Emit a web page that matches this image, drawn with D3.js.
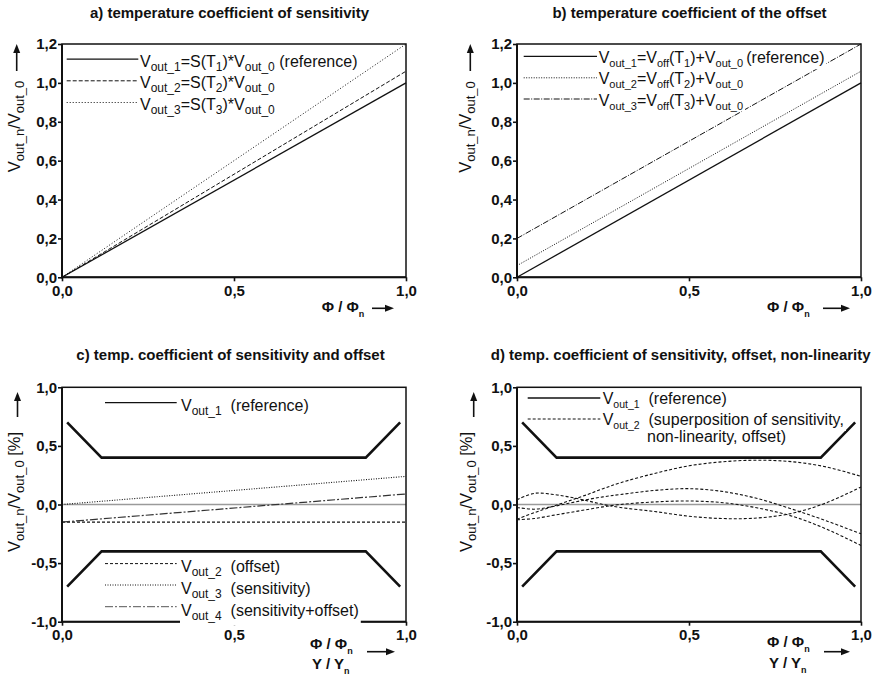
<!DOCTYPE html>
<html>
<head>
<meta charset="utf-8">
<script src="https://cdn.jsdelivr.net/npm/d3@7"></script>
<style>
  body { margin: 0; background: #fff; }
  svg { display: block; font-family: "Liberation Sans", Arial, Helvetica, sans-serif; }
</style>
</head>
<body>
<svg id="fig" width="877" height="681"></svg>
<script>
// ---------- data ----------
const xTicks = [0, 0.5, 1.0];
const abYTicks = [0, 0.2, 0.4, 0.6, 0.8, 1.0, 1.2];
const cdYTicks = [-1.0, -0.5, 0, 0.5, 1.0];

// a) sensitivity drift: straight lines through the origin
const lineX = [0, 1];
const aRef = [0, 1.0];
const aSensT2 = [0, 1.06];
const aSensT3 = [0, 1.2];

// b) offset drift: parallel lines
const bRef = [0, 1.0];
const bOffT2 = [0.06, 1.06];
const bOffT3 = [0.2, 1.2];

// c) / d) tolerance band (reference), in %
const bandX = [0.015, 0.115, 0.883, 0.983];
const bandUpper = [0.70, 0.40, 0.40, 0.70];
const bandLower = [-0.70, -0.40, -0.40, -0.70];

// c) error curves, in %
const cOffset = [-0.15, -0.15];
const cSens = [0, 0.24];
const cSensOffset = [-0.15, 0.09];

// d) superposed error curves, in %
const dX  = [0, 0.05, 0.1, 0.15, 0.2, 0.25, 0.3, 0.4, 0.5, 0.6, 0.7, 0.8, 0.9, 1.0];
const dC1 = [-0.125, -0.07, -0.02, 0.03, 0.08, 0.135, 0.185, 0.265, 0.33, 0.365, 0.378, 0.365, 0.32, 0.24];
const dC2 = [0.04, 0.095, 0.088, 0.065, 0.035, 0.0, -0.025, -0.06, -0.1, -0.12, -0.115, -0.075, 0.015, 0.15];
const dC3 = [-0.025, -0.04, -0.02, 0.01, 0.04, 0.065, 0.085, 0.12, 0.135, 0.11, 0.05, -0.04, -0.14, -0.25];
const dC4 = [-0.13, -0.12, -0.095, -0.07, -0.045, -0.02, 0.0, 0.022, 0.03, 0.015, -0.03, -0.1, -0.21, -0.35];

// ---------- helpers ----------
const svg = d3.select("#fig");
const INK = "#111";
const fmt = d3.formatLocale({decimal: ",", thousands: ".", grouping: [3], currency: ["", ""], minus: "-"}).format(".1f");

// Writes a string with _{...} subscripts into a <text> element
function rich(text, str, size, subSize, subDy) {
  const re = /_\{([^}]*)\}/g;
  let last = 0, m, down = false;
  while ((m = re.exec(str))) {
    if (m.index > last) {
      text.append("tspan").attr("font-size", size).attr("dy", down ? -subDy : 0).text(str.slice(last, m.index));
      down = false;
    }
    text.append("tspan").attr("font-size", subSize).attr("dy", down ? 0 : subDy).text(m[1]);
    down = true;
    last = re.lastIndex;
  }
  if (last < str.length) {
    text.append("tspan").attr("font-size", size).attr("dy", down ? -subDy : 0).text(str.slice(last));
  }
  return text;
}

function makePanel(cfg) {
  const x = d3.scaleLinear().domain([0, 1]).range([cfg.x0, cfg.x1]);
  const y = d3.scaleLinear().domain(cfg.yDomain).range([cfg.yBottom, cfg.yTop]);
  const g = svg.append("g");
  const plot = g.append("g");
  return {x, y, g, plot, cfg};
}

function drawAxes(p, yTicks) {
  const {x, y, g} = p;
  const [y0, y1] = y.range();
  const [x0, x1] = x.range();

  const bx = g.append("g").attr("transform", `translate(0,${y0})`)
    .call(d3.axisBottom(x).tickValues(xTicks).tickFormat(fmt).tickSize(4).tickSizeOuter(0).tickPadding(4));
  const ly = g.append("g").attr("transform", `translate(${x0},0)`)
    .call(d3.axisLeft(y).tickValues(yTicks).tickFormat(fmt).tickSize(4).tickSizeOuter(0).tickPadding(1));
  [bx, ly].forEach(a => {
    a.select(".domain").remove();
    a.attr("font-family", null).attr("font-size", null);
    a.selectAll("line").attr("stroke", INK).attr("stroke-width", 1.6);
    a.selectAll("text").attr("fill", INK).attr("font-size", 15).attr("font-weight", "bold");
  });

  // plot frame
  g.append("rect").attr("x", x0).attr("y", y1).attr("width", x1 - x0).attr("height", y0 - y1)
    .attr("fill", "none").attr("stroke", INK).attr("stroke-width", 1.5);
  g.append("line").attr("x1", x0).attr("x2", x0).attr("y1", y1).attr("y2", y0 + 1)
    .attr("stroke", INK).attr("stroke-width", 2);
  g.append("line").attr("x1", x0 - 1).attr("x2", x1).attr("y1", y0).attr("y2", y0)
    .attr("stroke", INK).attr("stroke-width", 2);
}

function curve(p, xs, ys, style, interp) {
  const line = d3.line().x(d => p.x(d[0])).y(d => p.y(d[1])).curve(interp || d3.curveLinear);
  p.plot.append("path").datum(d3.zip(xs, ys))
    .attr("d", line).attr("fill", "none")
    .attr("stroke", style.color || INK)
    .attr("stroke-width", style.width || 1)
    .attr("stroke-dasharray", style.dash || null)
    .attr("stroke-linejoin", "miter");
}

function legendRow(p, row) {
  const lg = p.g.append("g");
  if (row.line) {
    lg.append("line").attr("x1", row.line[0]).attr("x2", row.line[1])
      .attr("y1", row.base - row.lineOff).attr("y2", row.base - row.lineOff)
      .attr("stroke", row.style.color || INK).attr("stroke-width", row.style.width || 1)
      .attr("stroke-dasharray", row.style.dash || null);
  }
  const t = lg.append("text").attr("x", row.tx).attr("y", row.base)
    .attr("fill", INK).style("white-space", "pre");
  rich(t, row.label, 16, row.sub || 12, 4);
  const bb = t.node().getBBox();
  lg.insert("rect", () => t.node())
    .attr("x", bb.x - 1).attr("y", bb.y + 1)
    .attr("width", bb.width + 3).attr("height", bb.height - 1 + (row.padBottom || 0))
    .attr("fill", "#fff");
}

function title(cx, base, str) {
  svg.append("text").attr("x", cx).attr("y", base).attr("text-anchor", "middle")
    .attr("font-size", 15).attr("font-weight", "bold").attr("fill", INK).text(str);
}

function yLabel(bx, cy, str, arrowX, arrowTip, arrowTail) {
  const t = svg.append("text").attr("transform", `translate(${bx},${cy}) rotate(-90)`)
    .attr("text-anchor", "middle").attr("fill", INK).style("white-space", "pre");
  rich(t, str, 16.5, 13, 4);
  arrow(arrowX, arrowTail, arrowX, arrowTip);
}

function xLabel(lines, arrowX0, arrowX1, arrowY) {
  lines.forEach(l => {
    const t = svg.append("text").attr("x", l.x).attr("y", l.y).attr("fill", INK)
      .attr("font-weight", "bold").style("white-space", "pre");
    rich(t, l.str, 15, 9, 5);
  });
  arrow(arrowX0, arrowY, arrowX1, arrowY);
}

function arrow(xa, ya, xb, yb) {
  const ang = Math.atan2(yb - ya, xb - xa);
  const L = 9, Wd = 3.5;
  const bx = xb - L * Math.cos(ang), by = yb - L * Math.sin(ang);
  svg.append("line").attr("x1", xa).attr("y1", ya).attr("x2", bx).attr("y2", by)
    .attr("stroke", INK).attr("stroke-width", 1.6);
  const nx = -Math.sin(ang) * Wd, ny = Math.cos(ang) * Wd;
  svg.append("path")
    .attr("d", `M${xb},${yb}L${bx + nx},${by + ny}L${bx - nx},${by - ny}Z`)
    .attr("fill", INK);
}

// ---------- panel a ----------
const pa = makePanel({x0: 62, x1: 406, yBottom: 277.3, yTop: 44, yDomain: [0, 1.2]});
curve(pa, lineX, aRef, {width: 1.3});
curve(pa, lineX, aSensT2, {dash: "4,2"});
curve(pa, lineX, aSensT3, {dash: "1,2"});
drawAxes(pa, abYTicks);
legendRow(pa, {line: [66.7, 138.3], lineOff: 7.5, tx: 140, base: 66.7, style: {width: 1.3}, label: "V_{out_1}=S(T_{1})*V_{out_0} (reference)"});
legendRow(pa, {line: [66.7, 138.3], lineOff: 7.5, tx: 140, base: 88.3, style: {dash: "4,2"}, label: "V_{out_2}=S(T_{2})*V_{out_0}"});
legendRow(pa, {line: [66.7, 138.3], lineOff: 7.5, tx: 140, base: 110, style: {dash: "1,2"}, label: "V_{out_3}=S(T_{3})*V_{out_0}"});
title(229.5, 17.5, "a) temperature coefficient of sensitivity");
yLabel(20, 126.5, "V_{out_n}/V_{out_0}", 16.7, 44, 71);
xLabel([{x: 321.7, y: 311.7, str: "Φ / Φ_{n}"}], 372, 394, 308.3);

// ---------- panel b ----------
const pb = makePanel({x0: 517, x1: 861, yBottom: 277.3, yTop: 44, yDomain: [0, 1.2]});
curve(pb, lineX, bRef, {width: 1.3});
curve(pb, lineX, bOffT2, {dash: "1,1.5"});
curve(pb, lineX, bOffT3, {dash: "6,1.5,1,1.5"});
drawAxes(pb, abYTicks);
legendRow(pb, {line: [523.7, 597], lineOff: 7, tx: 598.7, base: 63.3, sub: 11, style: {width: 1.3}, label: "V_{out_1}=V_{off}(T_{1})+V_{out_0}\u2009(reference)"});
legendRow(pb, {line: [523.7, 597], lineOff: 6.5, tx: 598.7, base: 84.3, sub: 11, style: {dash: "1,1.5"}, label: "V_{out_2}=V_{off}(T_{2})+V_{out_0}"});
legendRow(pb, {line: [523.7, 597], lineOff: 6.5, tx: 598.7, base: 105.5, sub: 11, style: {dash: "6,1.5,1,1.5"}, label: "V_{out_3}=V_{off}(T_{3})+V_{out_0}"});
title(689.5, 17.5, "b) temperature coefficient of the offset");
yLabel(470.5, 127, "V_{out_n}/V_{out_0}", 470.3, 44, 71);
xLabel([{x: 767, y: 311.7, str: "Φ / Φ_{n}"}], 823, 850, 308.3);

// ---------- panel c ----------
const pc = makePanel({x0: 62, x1: 406, yBottom: 621.7, yTop: 387.3, yDomain: [-1, 1]});
curve(pc, lineX, [0, 0], {color: "#9a9a9a", width: 1.5});
curve(pc, bandX, bandUpper, {width: 2.6});
curve(pc, bandX, bandLower, {width: 2.6});
curve(pc, lineX, cOffset, {dash: "3,2", width: 1.1});
curve(pc, lineX, cSens, {dash: "1,1.5", width: 1.1});
curve(pc, lineX, cSensOffset, {dash: "8,2,2,2", width: 1.2, color: "#333"});
drawAxes(pc, cdYTicks);
legendRow(pc, {line: [105, 176.7], lineOff: 8.3, tx: 181, base: 411, style: {width: 1.3}, label: "V_{out_1}  (reference)"});
legendRow(pc, {line: [105, 176.7], lineOff: 8.7, tx: 181, base: 572.3, style: {dash: "3,2"}, label: "V_{out_2}  (offset)"});
legendRow(pc, {line: [105, 176.7], lineOff: 9, tx: 181, base: 594, style: {dash: "1,1.5"}, label: "V_{out_3}  (sensitivity)"});
legendRow(pc, {line: [105, 176.7], lineOff: 9, tx: 181, base: 615.7, style: {dash: "8,2,2,2", color: "#555"}, label: "V_{out_4}  (sensitivity+offset)", padBottom: 3});
title(230.5, 359.5, "c) temp. coefficient of sensitivity and offset");
yLabel(20, 492, "V_{out_n}/V_{out_0} [%]", 17.5, 392, 417);
xLabel([{x: 310, y: 649, str: "Φ / Φ_{n}"}, {x: 312, y: 669, str: "Y / Y_{n}"}], 367, 395, 651.7);

// ---------- panel d ----------
const pd = makePanel({x0: 517, x1: 861, yBottom: 621.7, yTop: 387.3, yDomain: [-1, 1]});
curve(pd, lineX, [0, 0], {color: "#9a9a9a", width: 1.5});
curve(pd, bandX, bandUpper, {width: 2.6});
curve(pd, bandX, bandLower, {width: 2.6});
[dC1, dC2, dC3, dC4].forEach(ys => curve(pd, dX, ys, {dash: "3,2", width: 1.1}, d3.curveCatmullRom));
drawAxes(pd, cdYTicks);
legendRow(pd, {line: [527.7, 600.3], lineOff: 6, tx: 602.7, base: 404, sub: 10.5, style: {width: 1.3}, label: "V_{out_1}  (reference)"});
legendRow(pd, {line: [527.7, 600.3], lineOff: 6, tx: 602.7, base: 425, sub: 10.5, style: {dash: "3,2"}, label: "V_{out_2}  (superposition of sensitivity,"});
legendRow(pd, {tx: 647, base: 442, style: {}, label: "non-linearity, offset)"});
title(680.7, 359.5, "d) temp. coefficient of sensitivity, offset, non-linearity");
yLabel(472, 492, "V_{out_n}/V_{out_0} [%]", 473.7, 392, 417);
xLabel([{x: 767, y: 647, str: "Φ / Φ_{n}"}, {x: 769, y: 668, str: "Y / Y_{n}"}], 824, 850, 651.7);
</script>
</body>
</html>
